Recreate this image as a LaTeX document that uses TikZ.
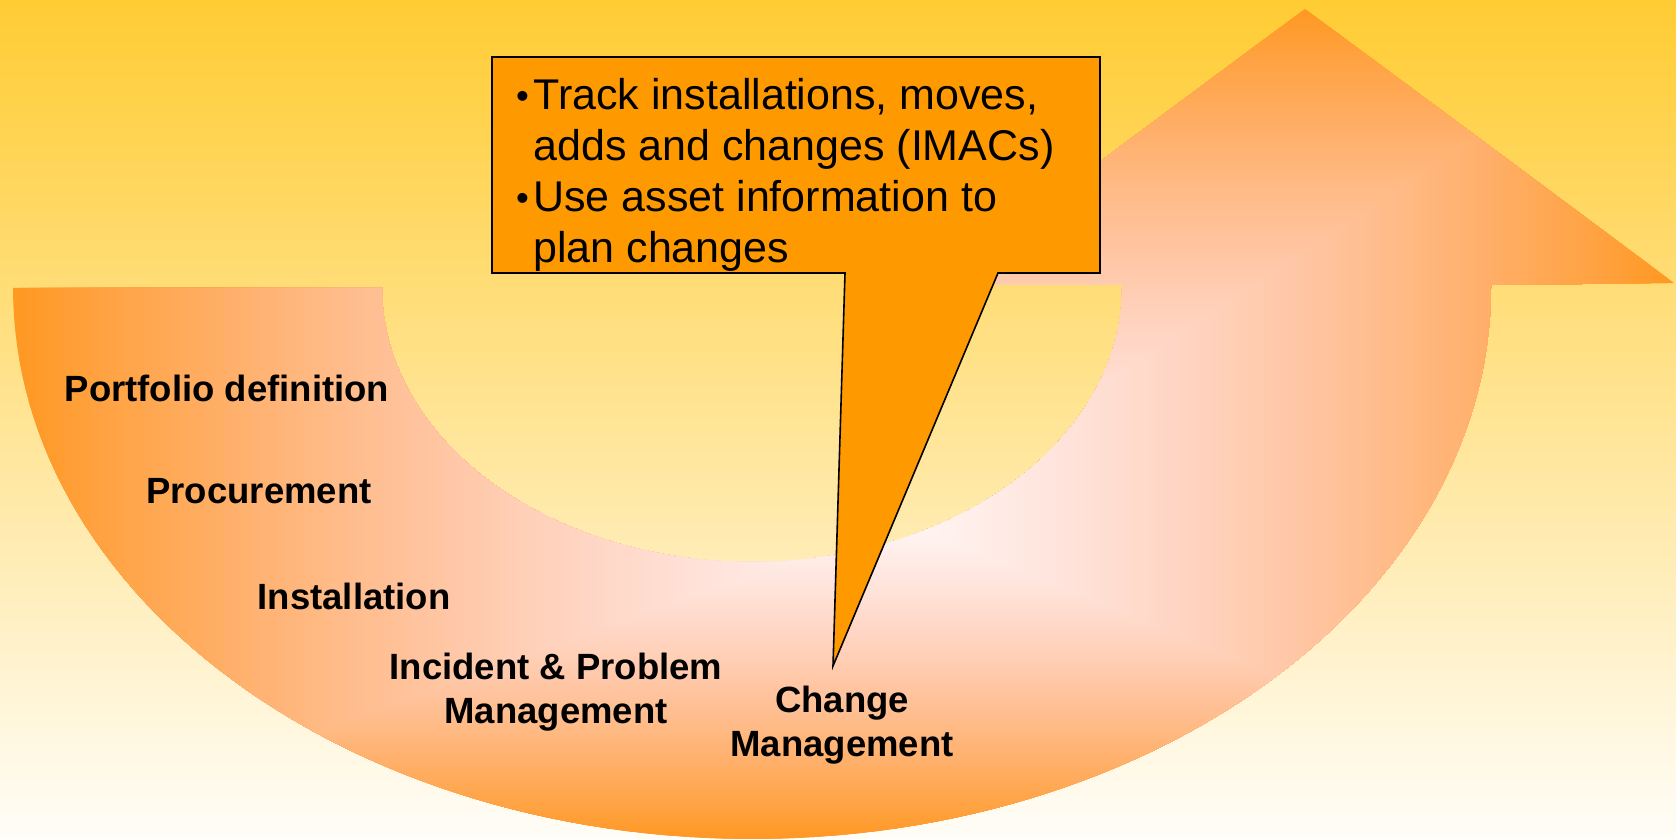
\documentclass[tikz,border=0pt]{standalone}
\usepackage{fontspec}
\setmainfont{Liberation Sans}
\definecolor{bgtop}{HTML}{FFCC33}
\definecolor{bgmid}{HTML}{FFE6B5}
\definecolor{bgbot}{HTML}{FFFDF8}
\definecolor{callfill}{HTML}{FF9900}
\tikzset{
  steplabel/.style={anchor=base, inner sep=0pt, font=\fontsize{18.25}{22.25}\selectfont\bfseries},
  calltext/.style={anchor=base west, inner sep=0pt, font=\fontsize{21.5}{25.5}\selectfont},
  callshape/.style={fill=callfill, draw=black, line width=0.8pt, line join=miter},
}
\newcommand\calbul{\llap{\raisebox{0.5pt}{\scalebox{0.85}{•}}\kern2.2pt}}
\begin{document}
\begin{tikzpicture}[x=0.5pt,y=-0.5pt]
\useasboundingbox (0,0) rectangle (1676,839);
% background
\shade[top color=bgtop, middle color=bgmid, bottom color=bgbot] (0,0) rectangle (1676,839);
% curved up arrow with rectangular gradient
\begin{scope}
\clip (13,288) -- plot[domain=180:360, samples=120, variable=\a] ({752+739*cos(\a)}, {288-551*sin(\a)})
  -- (1491,285) -- (1674,283) -- (1305,9) -- (934,285) -- (1122,285)
  -- plot[domain=360:180, samples=120, variable=\a] ({752+370*cos(\a)}, {288-274*sin(\a)}) -- cycle;
\foreach \i in {100,99,...,1}{
  \pgfmathsetmacro\t{\i/100}
  \pgfmathtruncatemacro\gg{248-95*\t}
  \pgfmathtruncatemacro\bb{245-97*\t-114*\t*\t}
  \definecolor{shc}{RGB}{255,\gg,\bb}
  \fill[shc] ({900-\t*890},{520-\t*515}) rectangle ({900+\t*776},{520+\t*322});
}
\end{scope}
% callout
\coordinate (tip) at (833,666);
\draw[callshape] (492,57) -- (1100,57) -- (1100,273) -- (998,273) -- (tip) -- (845,273) -- (492,273) -- cycle;
\node[calltext] (bullets) at (533,110) {\begin{tabular}[t]{@{}l@{}}\calbul Track installations, moves,\\ adds and changes (IMACs)\\ \calbul Use asset information to\\ plan changes\end{tabular}};
% stage labels
\node[steplabel] (portfolio) at (227,402) {Portfolio definition};
\node[steplabel] (procure) at (259,503) {Procurement};
\node[steplabel] (install) at (354,609) {Installation};
\node[steplabel] (incident) at (556,679) {\begin{tabular}[t]{@{}c@{}}Incident \& Problem\\ Management\end{tabular}};
\node[steplabel] (change) at (842,712) {\begin{tabular}[t]{@{}c@{}}Change\\ Management\end{tabular}};
\end{tikzpicture}
\end{document}
